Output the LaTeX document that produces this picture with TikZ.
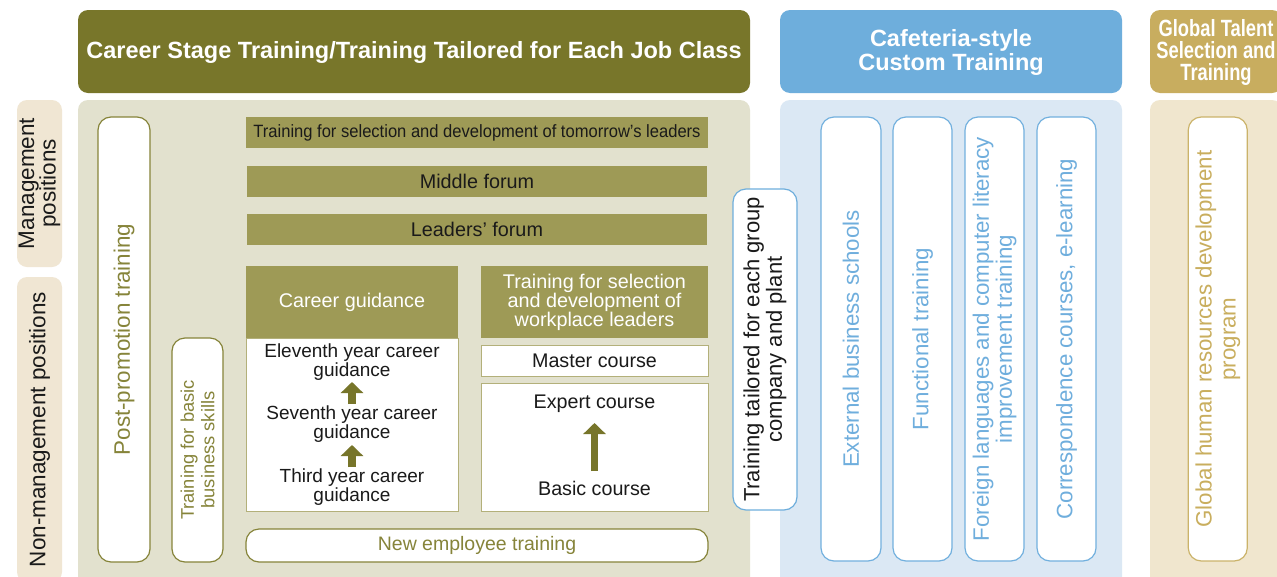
\documentclass[tikz,border=0pt]{standalone}
\usepackage{fontspec}
\setmainfont{Liberation Sans}
\usetikzlibrary{arrows.meta}
\definecolor{hdrolive}{HTML}{78762A}
\definecolor{barolive}{HTML}{9E9A56}
\definecolor{panolive}{HTML}{E2E1CE}
\definecolor{txtolive}{HTML}{86843A}
\definecolor{brdolive}{HTML}{86843A}
\definecolor{thinolive}{HTML}{B3B07A}
\definecolor{arrolive}{HTML}{77752A}
\definecolor{hdrblue}{HTML}{6EAEDC}
\definecolor{panblue}{HTML}{DBE8F4}
\definecolor{brdblue}{HTML}{72B0DE}
\definecolor{txtblue}{HTML}{6FAEDD}
\definecolor{lblbeige}{HTML}{F0E6D3}
\definecolor{hdrgold}{HTML}{C8AD5F}
\definecolor{pangold}{HTML}{F0E6CE}
\definecolor{brdgold}{HTML}{CBB36A}
\definecolor{txtgold}{HTML}{C9AE5E}
\definecolor{txtdark}{HTML}{1A1A1A}
\newcommand{\hdrshift}[1]{\raisebox{-2pt}[\height][\depth]{\begin{tabular}{@{}c@{}}#1\end{tabular}}}
\tikzset{
  hdr/.style={rounded corners=10pt, inner sep=0pt, text=white, align=center,
    font=\fontsize{23.5}{22.5}\selectfont\bfseries},
  panel/.style={rounded corners=10pt, inner sep=0pt},
  sidelbl/.style={fill=lblbeige, rounded corners=10pt, rotate=90, inner sep=0pt,
    align=center, text=txtdark, font=\fontsize{22.5}{21.5}\selectfont},
  tallbox/.style={fill=white, rounded corners=13pt, rotate=90, inner sep=0pt,
    align=center, line width=1.2pt},
  bar/.style={fill=barolive, inner sep=0pt, text=txtdark,
    font=\fontsize{19.8}{19}\selectfont},
  whitebox/.style={fill=white, draw=thinolive, line width=0.8pt, inner sep=0pt},
  bodytxt/.style={inner sep=0pt, align=center, text=txtdark,
    font=\fontsize{19.7}{19.5}\selectfont},
  vtxt/.style={font=\fontsize{22.3}{23}\selectfont},
  uparrow/.style={draw=arrolive, line width=7.5pt,
    -{Triangle[width=22pt,length=11pt]}}
}
\begin{document}
\begin{tikzpicture}[x=1pt,y=-1pt]
\useasboundingbox (0,0) rectangle (1277,576);
\clip (0,0) rectangle (1277,576);
\fill[white] (0,0) rectangle (1277,576);

% headers
\node[hdr, fill=hdrolive, minimum width=672pt, minimum height=83pt] (h1) at (414,51.5)
  {\hdrshift{Career Stage Training/Training Tailored for Each Job Class}};
\node[hdr, fill=hdrblue, minimum width=342pt, minimum height=83pt] (h2) at (951,51.5)
  {\hdrshift{Cafeteria-style\\Custom Training}};
\node[hdr, fill=hdrgold, minimum width=132pt, minimum height=83pt] (h3) at (1216,51.5)
  {\scalebox{0.78}[1]{\hdrshift{Global Talent\\[-1.5pt]Selection and\\[-1.5pt]Training}}};

% panels
\node[panel, fill=panolive, minimum width=672pt, minimum height=490pt] (p1) at (414,345) {};
\node[panel, fill=panblue, minimum width=342pt, minimum height=490pt] (p2) at (951,345) {};
\node[panel, fill=pangold, minimum width=132pt, minimum height=490pt] (p3) at (1216,345) {};

% side labels
\node[sidelbl, minimum width=167pt, minimum height=45pt] (mgmt) at (39.5,183.5)
  {Management\\positions};
\node[sidelbl, minimum width=305pt, minimum height=45pt] (nonmgmt) at (39.5,429.5)
  {Non-management positions};

% left tall boxes
\node[tallbox, draw=brdolive, text=txtolive, minimum width=445pt, minimum height=52pt,
  font=\fontsize{22.4}{22}\selectfont] (post) at (124,339.5) {Post-promotion training};
\node[tallbox, draw=brdolive, text=txtolive, minimum width=224pt, minimum height=51pt,
  font=\fontsize{18.3}{20.5}\selectfont] (basic) at (197.5,450)
  {Training for basic\\business skills};

% bars
\node[bar, minimum width=462pt, minimum height=31pt] (tomorrow) at (477,132.5)
  {\fontsize{17.8}{18}\selectfont\scalebox{0.93}[1]{Training for selection and development of tomorrow’s leaders}};
\node[bar, minimum width=460pt, minimum height=31pt] (middle) at (477,181.5) {Middle forum};
\node[bar, minimum width=460pt, minimum height=31pt] (leaders) at (477,229.5) {Leaders’ forum};

% career guidance
\node[bar, text=white, minimum width=212pt, minimum height=72pt] (cg) at (352,302) {Career guidance};
\node[whitebox, minimum width=212pt, minimum height=173pt] (cgbox) at (352,424.5) {};
\node[bodytxt, font=\fontsize{19}{19.5}\selectfont] (eleventh) at (352,362) {Eleventh year career\\guidance};
\node[bodytxt, font=\fontsize{19}{19.5}\selectfont] (seventh) at (352,424) {Seventh year career\\guidance};
\node[bodytxt, font=\fontsize{19}{19.5}\selectfont] (third) at (352,487) {Third year career\\guidance};
\draw[uparrow, shorten <=20pt, shorten >=20pt] (seventh.center) -- (eleventh.center);
\draw[uparrow, shorten <=20pt, shorten >=21pt] (third.center) -- (seventh.center);

% workplace leaders
\node[bar, text=white, align=center, minimum width=227pt, minimum height=72pt] (wl) at (594.5,302)
  {Training for selection\\and development of\\workplace leaders};
\node[whitebox, minimum width=227pt, minimum height=31pt, bodytxt] (master) at (594.5,360.5) {Master course};
\node[whitebox, minimum width=227pt, minimum height=128pt] (expbox) at (594.5,447) {};
\node[bodytxt] (expert) at (594.5,404) {Expert course};
\node[bodytxt] (basiccourse) at (594.5,488) {Basic course};
\draw[uparrow, shorten <=17pt, shorten >=19pt] (basiccourse.center) -- (expert.center);

% new employee
\node[fill=white, draw=brdolive, line width=1.2pt, rounded corners=13pt, inner sep=0pt,
  minimum width=462pt, minimum height=33pt, text=txtolive, font=\fontsize{19.5}{19}\selectfont]
  (newemp) at (477,545.5) {New employee training};

% tailored
\node[tallbox, draw=hdrblue, text=txtdark, minimum width=321pt, minimum height=64pt,
  font=\fontsize{22}{22.5}\selectfont] (tailored) at (765,349.5)
  {Training tailored for each group\\company and plant};

% cafeteria boxes
\node[tallbox, vtxt, draw=brdblue, text=txtblue, minimum width=444pt, minimum height=60pt]
  (ext) at (851,339) {External business schools};
\node[tallbox, vtxt, draw=brdblue, text=txtblue, minimum width=444pt, minimum height=59pt]
  (func) at (922.5,339) {Functional training};
\node[tallbox, vtxt, draw=brdblue, text=txtblue, minimum width=444pt, minimum height=59pt]
  (lang) at (994.5,339) {Foreign languages and computer literacy\\improvement training};
\node[tallbox, vtxt, draw=brdblue, text=txtblue, minimum width=444pt, minimum height=59pt]
  (corr) at (1066.5,339) {Correspondence courses, e-learning};

% global
\node[tallbox, vtxt, draw=brdgold, text=txtgold, minimum width=444pt, minimum height=59pt,
  font=\fontsize{22.3}{24}\selectfont] (global) at (1217.75,339)
  {Global human resources development\\program};
\end{tikzpicture}
\end{document}
